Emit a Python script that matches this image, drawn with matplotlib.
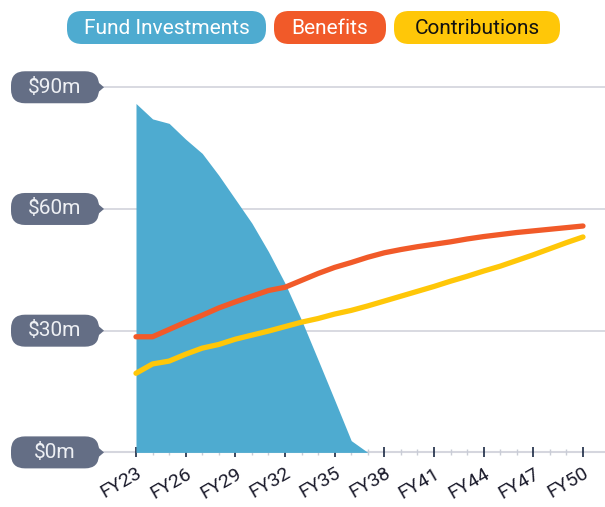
import matplotlib
matplotlib.use("Agg")
import matplotlib.pyplot as plt
import matplotlib.transforms as mtransforms
from matplotlib.patches import FancyBboxPatch, Polygon

plt.rcParams['font.family'] = ['Roboto', 'DejaVu Sans']

years = list(range(23, 51))
fund = [86.0, 82.2, 81.1, 77.2, 73.7, 68.3, 62.4, 56.5, 49.5, 41.7, 32.6, 22.8, 12.9, 2.9,
        0, 0, 0, 0, 0, 0, 0, 0, 0, 0, 0, 0, 0, 0]
benefits = [28.5, 28.5, 30.3, 32.1, 33.8, 35.6, 37.1, 38.5, 39.9, 40.7, 42.4, 44.1, 45.6, 46.8,
            48.1, 49.2, 50.0, 50.7, 51.3, 51.9, 52.6, 53.2, 53.7, 54.2, 54.6, 55.0, 55.4, 55.8]
contributions = [19.5, 21.8, 22.5, 24.2, 25.7, 26.6, 27.9, 28.9, 29.9, 31.0, 32.1, 33.0, 34.1, 35.0,
                 36.1, 37.3, 38.5, 39.7, 40.9, 42.2, 43.4, 44.7, 45.9, 47.3, 48.7, 50.2, 51.7, 53.1]
y_ticks = [0, 30, 60, 90]
y_labels = ['$0m', '$30m', '$60m', '$90m']
major_years = list(range(23, 51, 3))
major_labels = ['FY%d' % y for y in major_years]

W, H = 605, 507
BLUE = '#4eabd0'
ORANGE = '#f15a29'
YELLOW = '#ffc708'
PILL = '#646e85'

fig = plt.figure(figsize=(W / 100, H / 100), dpi=100)
ax = fig.add_axes([103 / W, 0.0677, 1 - 103 / W, 0.8162])
ax.set_xlim(21.007, 51.33)
ax.set_ylim(-5, 97)

# pixel transform (top-left origin)
T = mtransforms.Affine2D().scale(1 / W, -1 / H).translate(0, 1) + fig.transFigure

ax.fill_between(years, fund, 0, color=BLUE, linewidth=0, zorder=2)
ax.plot(years, benefits, color=ORANGE, lw=3.8, solid_capstyle='round', zorder=3)
ax.plot(years, contributions, color=YELLOW, lw=3.8, solid_capstyle='round', zorder=4)

for v in y_ticks[1:]:
    ax.axhline(v, color='#d2d3db', lw=1.2, zorder=1)

for s in ['top', 'right', 'left']:
    ax.spines[s].set_visible(False)
ax.spines['bottom'].set_position(('data', 0))
ax.spines['bottom'].set_color('#d5d6de')
ax.spines['bottom'].set_linewidth(1.5)
ax.spines['bottom'].set_zorder(1)

ax.set_yticks([])
ax.set_xticks(major_years)
ax.set_xticklabels(major_labels, rotation=30, ha='right', va='top',
                   rotation_mode='anchor', fontsize=14, color='#1c1c2c')
ax.set_xticks(years, minor=True)
ax.tick_params(axis='x', which='major', direction='inout', length=7, width=1.2,
               color='#1b2a44', pad=5)
ax.tick_params(axis='x', which='minor', direction='inout', length=5, width=1,
               color='#c9ccd6')

# y-axis pill labels
fig.canvas.draw()
inv = fig.transFigure.inverted()
for v, lab in zip(y_ticks, y_labels):
    fy = inv.transform(ax.transData.transform((0, v)))[1]
    py = (1 - fy) * H
    box = FancyBboxPatch((11, py - 16), 88, 32, boxstyle='round,pad=0,rounding_size=14',
                         transform=T, facecolor=PILL, edgecolor='none', clip_on=False)
    fig.patches.append(box)
    tri = Polygon([(97, py - 6), (104, py), (97, py + 6)], closed=True, transform=T,
                  facecolor=PILL, edgecolor='none', clip_on=False)
    fig.patches.append(tri)
    fig.text(55, py, lab, transform=T, ha='center', va='center', fontsize=15,
             color='#eef0f4')

# legend pills
legend = [('Fund Investments', BLUE, 'white', 67, 199),
          ('Benefits', ORANGE, 'white', 274, 112),
          ('Contributions', YELLOW, '#111111', 394, 166)]
for lab, fc, tc, x0, w in legend:
    box = FancyBboxPatch((x0, 11), w, 33, boxstyle='round,pad=0,rounding_size=15',
                         transform=T, facecolor=fc, edgecolor='none', clip_on=False)
    fig.patches.append(box)
    fig.text(x0 + w / 2, 28, lab, transform=T, ha='center', va='center', fontsize=15,
             color=tc)

fig.savefig('out.png', dpi=100)
